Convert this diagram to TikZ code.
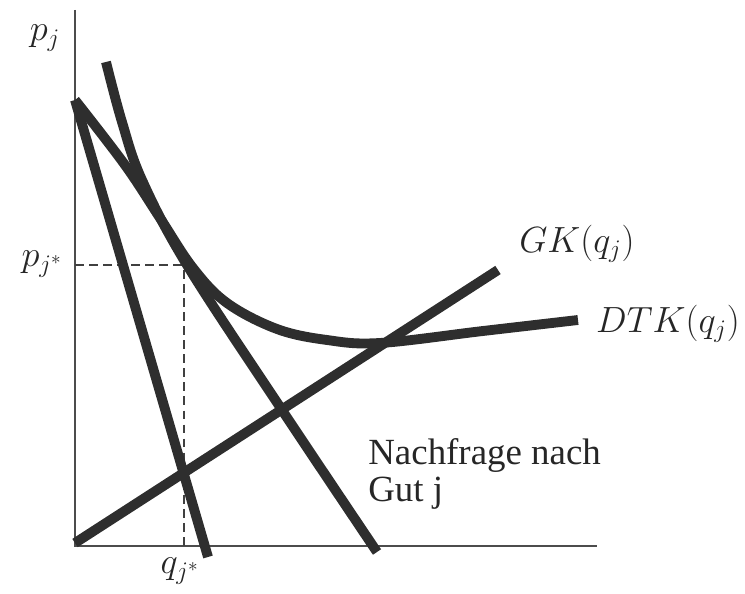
\documentclass[tikz,border=0pt]{standalone}
\usepackage{fontspec}
\newfontfamily\serifmine{Liberation Serif}
\begin{document}
\begin{tikzpicture}[x=0.02cm,y=-0.02cm,
  curve/.style={line width=5.6pt,color=black!82,line cap=butt,line join=round},
  axis/.style={line width=1.1pt,color=black!70},
  guide/.style={line width=0.8pt,color=black!75,dashed,dash pattern=on 5pt off 3pt},
  lab/.style={inner sep=0pt,font=\fontsize{21}{25}\selectfont,color=black!85},
  txt/.style={inner sep=0pt,anchor=base west,font=\serifmine\fontsize{21}{25}\selectfont,color=black!85}]
\useasboundingbox (0,0) rectangle (745,594);
% coordinates
\coordinate (O) at (75,546);
\coordinate (ytop) at (75,10);
\coordinate (xend) at (597,546);
\coordinate (A) at (75,100);
\coordinate (D1end) at (208,557);
\coordinate (GKs) at (75,543);
\coordinate (GKe) at (498,270);
\coordinate (P) at (75,265);
\coordinate (T) at (190,265);
\coordinate (Tv) at (184,270);
\coordinate (Q) at (184,546);
% axes
\draw[axis] (ytop) -- (O) -- (xend);
% dashed guides
\draw[guide] (P) -- (T);
\draw[guide] (Tv) -- (Q);
% steep demand line
\draw[curve] (A) -- (D1end);
% Nachfrage nach Gut j
\draw[curve] plot[smooth,tension=0.6] coordinates {(106,62) (122,122) (142,180) (187,265) (280,407) (377,552)};
% GK
\draw[curve] (GKs) -- (GKe);
% DTK
\draw[curve] plot[smooth,tension=0.6] coordinates {(75,100) (125,165) (160,218) (193,268) (227,303) (277,329) (327,340) (380,343) (483,331) (578,320)};
% labels
\node[lab] (lpj) at (45,38) {$p_j$};
\node[lab] (lpjs) at (42,264) {$p_{j^*}$};
\node[lab] (lqjs) at (180,571) {$q_{j^*}$};
\node[lab] (lgk) at (577,244) {$GK(q_j)$};
\node[lab] (ldtk) at (668,324) {$DTK(q_j)$};
\node[txt] (ln1) at (368,465) {Nachfrage nach};
\node[txt] (ln2) at (368,502) {Gut j};
\end{tikzpicture}
\end{document}
